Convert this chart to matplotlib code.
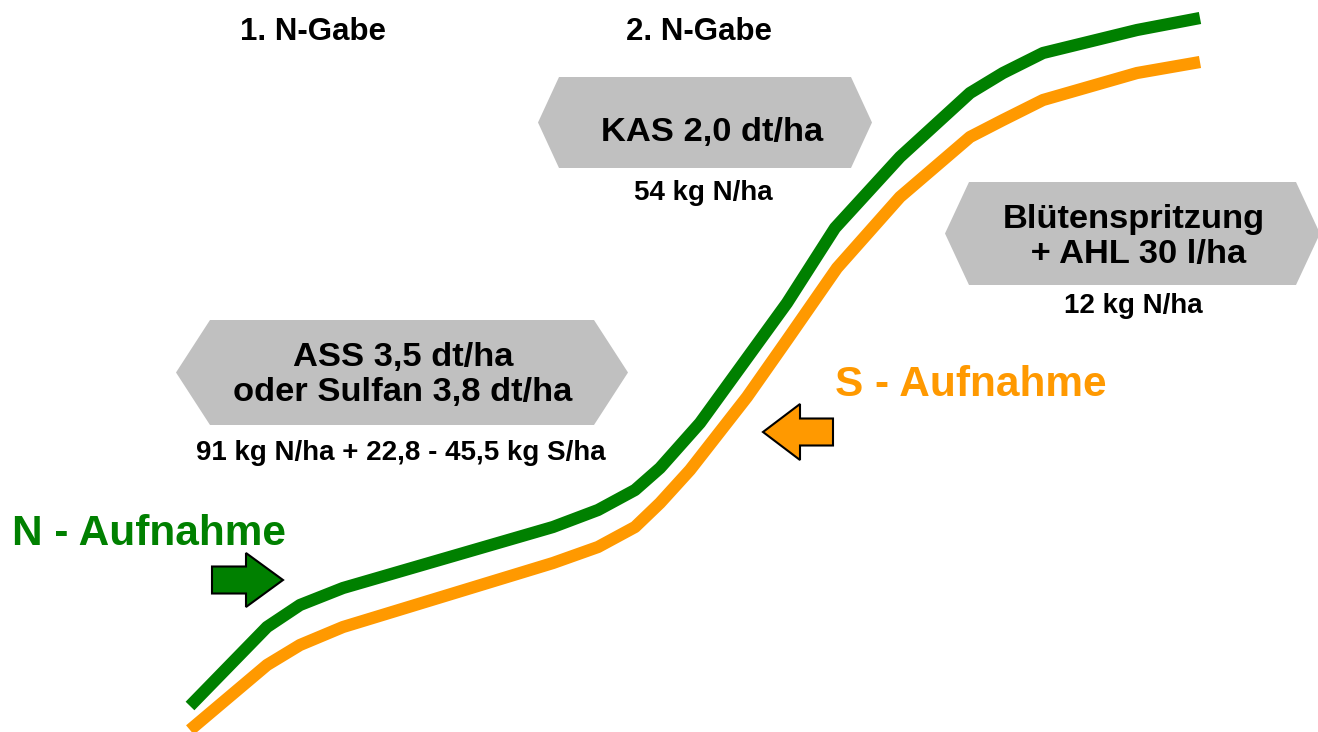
import matplotlib.pyplot as plt
from matplotlib.patches import Polygon, FancyArrow

plt.rcParams['font.family'] = ['Liberation Sans', 'DejaVu Sans']

# curves, traced in picture coordinates (x to the right, y downwards)
n_x = [190, 267, 300, 343, 553, 598, 635, 660, 700, 787, 835, 900, 970, 1003, 1043, 1137, 1200]
n_y = [706, 627, 605, 588, 527, 510, 490, 468, 423, 303, 228, 157, 93, 73, 53, 30, 18]
s_x = [190, 267, 300, 343, 553, 598, 635, 660, 690, 747, 787, 837, 900, 970, 1003, 1043, 1137, 1200]
s_y = [730, 665, 645, 627, 563, 547, 527, 503, 470, 397, 340, 268, 197, 137, 120, 100, 73, 62]

headers = ['1. N-Gabe', '2. N-Gabe']
box_texts = ['ASS 3,5 dt/ha\noder Sulfan 3,8 dt/ha', 'KAS 2,0 dt/ha', 'Blütenspritzung\n + AHL 30 l/ha']
box_notes = ['91 kg N/ha + 22,8 - 45,5 kg S/ha', '54 kg N/ha', '12 kg N/ha']

GREEN = '#008000'
ORANGE = '#FF9900'
GREY = '#C0C0C0'

fig = plt.figure(figsize=(13.18, 7.32), dpi=100)
ax = fig.add_axes([0, 0, 1, 1])
ax.set_xlim(0, 1318)
ax.set_ylim(732, 0)
ax.axis('off')

ax.plot(n_x, n_y, color=GREEN, lw=8.8, solid_joinstyle='round', solid_capstyle='butt', zorder=2)
ax.plot(s_x, s_y, color=ORANGE, lw=8.8, solid_joinstyle='round', solid_capstyle='butt', zorder=2)


def hexagon(x0, x1, y0, y1, tip):
    ym = (y0 + y1) / 2
    pts = [(x0, ym), (x0 + tip, y0), (x1 - tip, y0), (x1, ym), (x1 - tip, y1), (x0 + tip, y1)]
    ax.add_patch(Polygon(pts, closed=True, fc=GREY, ec='none', zorder=1))


hexagon(176, 628, 320, 425, 34)
hexagon(538, 872, 77, 168, 21)
hexagon(945, 1320, 182, 285, 24)

BIG = 24.8
SMALL = 20

ax.text(403, 375, box_texts[0], ha='center', va='center', fontsize=BIG, fontweight='bold')
ax.text(401, 453, box_notes[0], ha='center', va='center', fontsize=SMALL, fontweight='bold')
ax.text(712, 132, box_texts[1], ha='center', va='center', fontsize=BIG, fontweight='bold')
ax.text(703, 193, box_notes[1], ha='center', va='center', fontsize=SMALL, fontweight='bold')
ax.text(1134, 237, box_texts[2], ha='center', va='center', fontsize=BIG, fontweight='bold')
ax.text(1133, 306, box_notes[2], ha='center', va='center', fontsize=SMALL, fontweight='bold')

ax.text(313, 32, headers[0], ha='center', va='center', fontsize=22.5, fontweight='bold')
ax.text(699, 32, headers[1], ha='center', va='center', fontsize=22.5, fontweight='bold')

ax.text(12, 534, 'N - Aufnahme', ha='left', va='center', fontsize=30.5, fontweight='bold', color=GREEN)
ax.text(835, 385, 'S - Aufnahme', ha='left', va='center', fontsize=30.5, fontweight='bold', color=ORANGE)

# block arrows
ax.add_patch(FancyArrow(212, 580, 71, 0, width=27, head_width=54, head_length=37,
                        length_includes_head=True, fc=GREEN, ec='black', lw=1.5, zorder=3))
ax.add_patch(FancyArrow(833, 432, -70, 0, width=27, head_width=56, head_length=37,
                        length_includes_head=True, fc=ORANGE, ec='black', lw=1.5, zorder=3))

fig.savefig('out.png', dpi=100)
